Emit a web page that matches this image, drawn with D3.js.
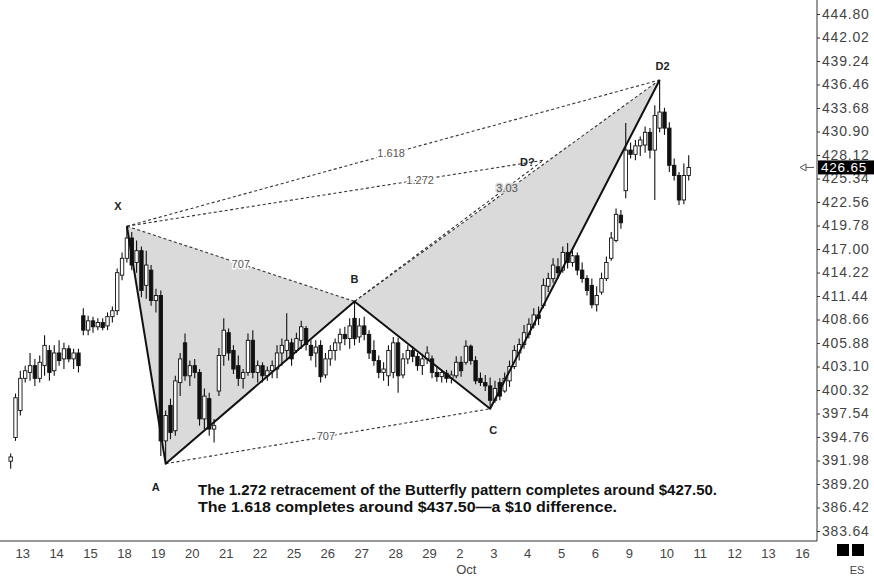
<!DOCTYPE html>
<html><head><meta charset="utf-8">
<script src="https://cdn.jsdelivr.net/npm/d3@7"></script>
<style>
html,body{margin:0;padding:0;background:#fff;}
svg{display:block;font-family:"Liberation Sans",Arial,sans-serif;}
</style></head><body>
<svg id="c" width="874" height="579"></svg>
<script>
// ---- data ----
const dayLabels = ["13","14","15","18","19","20","21","22","25","26","27","28","29","2","3","4","5","6","9","10","11","12","13","16"];
const monthLabel = {text:"Oct", day:13};
const opens = [391.9, 394.7,397.9,401.7,402.4,403.2,401.7,403.2, 405.0,402.6,404.7,404.0,405.2,404.0,404.7, 409.1,407.4,408.5,407.8,408.3,407.9,409.0, 409.7,413.9,415.9,418.3,415.4,416.8,412.7, 414.5,410.9,411.5,394.3,398.5,395.5,401.2, 405.9,402.0,403.2,402.4,396.9,399.3,395.7, 400.2,404.4,407.1,405.0,403.2,401.7,402.4, 406.2,402.4,403.2,402.0,402.6,402.8,404.7, 405.0,405.9,405.0,406.2,407.6,405.6,404.7, 405.6,402.1,404.0,405.0,405.9,406.9,406.4, 408.8,406.6,407.9,406.9,405.0,403.8,402.4, 402.0,402.4,405.9,402.1,404.0,405.0,404.3, 403.2,404.0,404.0,402.4,401.9,402.3,401.7, 402.0,403.6,403.6,405.5,403.8,401.7,401.2, 400.8,399.1,401.2,400.2,401.4,403.1,404.7, 405.7,406.9,408.0,409.2,410.3,412.6,413.5, 414.9,414.5,416.6,415.4,416.2,414.5,413.5, 412.7,410.4,411.9,413.5,415.9,418.0,421.0, 423.9,428.7,428.2,429.2,429.3,430.8,428.7, 431.3,433.2,431.3,426.9,425.7,422.8,425.7];
const highs = [392.8, 399.9,402.6,403.2,404.7,404.0,404.4,406.8, 405.6,405.6,406.2,405.9,405.6,405.2,405.2, 410.0,409.1,409.0,408.8,408.8,409.5,410.2, 414.7,416.6,419.7,419.0,418.0,417.3,416.8, 415.1,412.3,412.1,397.9,399.3,402.0,404.7, 407.0,403.8,404.0,402.8,400.5,400.0,396.9, 405.3,408.8,407.6,405.6,404.4,402.8,407.0, 407.4,403.8,403.6,403.1,403.8,405.6,406.4, 409.4,406.4,407.1,408.5,407.9,406.2,406.2, 406.2,404.7,405.6,406.4,407.6,407.8,408.8, 410.8,408.8,409.0,407.4,406.2,404.4,403.6, 405.6,406.6,406.5,404.7,405.6,405.5,404.7, 404.6,405.5,404.4,403.1,402.7,402.7,402.6, 404.3,404.3,406.2,405.7,404.3,402.4,402.1, 401.8,401.4,401.7,402.4,403.8,405.6,406.4, 408.0,408.8,410.0,410.2,413.5,414.2,415.9, 415.9,417.3,417.7,416.8,416.6,415.4,413.9, 413.5,412.6,414.2,416.1,419.0,421.8,421.6, 431.9,429.6,429.9,430.3,431.5,431.3,434.0, 437.0,433.7,432.0,427.7,426.1,427.1,428.1];
const lows = [391.0, 394.3,397.3,401.2,401.4,400.8,401.2,402.0, 401.4,402.0,403.2,402.8,403.6,402.8,402.4, 406.8,406.8,407.1,407.4,407.4,407.4,408.3, 409.2,413.3,415.4,414.5,414.2,411.3,411.1, 410.3,409.5,392.5,391.6,394.5,394.9,399.6, 401.4,400.8,401.7,396.1,395.7,394.9,394.1, 399.6,403.2,403.8,402.2,400.8,400.5,402.0, 401.7,401.2,401.2,401.4,401.7,401.7,403.2, 403.8,403.2,404.7,405.2,405.0,403.8,403.0, 401.2,401.7,403.2,403.8,405.0,405.6,405.2, 405.6,405.9,406.2,404.0,403.2,401.7,401.4, 400.8,401.7,400.0,401.7,403.4,403.6,402.6, 402.1,403.4,401.7,401.3,401.2,401.2,401.1, 401.7,401.9,403.3,403.3,401.0,400.8,400.2, 398.1,398.8,399.1,400.0,400.7,402.8,403.8, 405.2,406.4,407.6,408.0,410.0,411.9,413.0, 413.5,414.2,414.7,414.9,413.9,413.0,411.5, 410.0,409.6,411.6,413.2,415.6,417.8,419.4, 423.0,427.7,427.5,428.0,428.4,427.7,422.8, 430.8,430.5,426.1,425.1,422.2,422.3,425.1];
const closes = [392.4, 399.4,401.7,402.6,403.2,401.7,403.6,405.6, 402.4,404.7,403.8,405.2,404.0,404.7,403.2, 407.4,408.5,407.8,408.3,407.7,409.0,409.7, 414.2,415.9,418.3,415.1,416.8,412.1,415.1, 410.9,411.5,394.3,397.3,395.3,401.4,404.0, 402.0,403.2,402.4,396.9,399.6,395.7,396.1, 404.4,407.4,404.7,402.8,401.7,402.4,406.2, 402.4,403.2,402.0,402.6,403.2,404.7,405.6, 406.2,404.0,406.4,407.8,405.7,404.4,405.4, 401.9,404.0,405.0,405.9,406.9,406.4,407.9, 406.4,407.9,406.9,404.7,403.8,402.4,402.8, 405.0,405.9,402.0,404.0,405.0,404.3,403.2, 404.0,404.7,402.4,401.9,402.4,401.7,402.1, 403.6,402.6,405.5,403.8,401.4,401.2,400.8, 399.1,400.5,399.6,401.7,403.1,405.0,405.7, 407.1,408.1,409.2,408.8,412.7,413.5,415.1, 414.2,416.6,415.4,416.2,414.5,413.5,412.1, 410.4,411.5,413.5,415.4,418.3,421.1,420.1, 428.7,428.2,429.2,429.9,430.8,428.7,432.8, 433.2,431.3,426.9,425.7,422.8,425.7,426.65];
const yTicks = [444.80,442.02,439.24,436.46,433.68,430.90,428.12,425.34,422.56,419.78,417.00,414.22,411.44,408.66,405.88,403.10,400.32,397.54,394.76,391.98,389.20,386.42,383.64];
const patternNames = ["X","A","B","C","D2"];
const patternIdx = [24,32,71,99,134];
const patternPrice = [419.7,391.6,410.8,398.1,437.0];
const altD = {name:"D?", idx:110, price:427.5};
const ratioText = ["707","707","3.03","1.618","1.272"];
const lastPrice = 426.65;
const symbol = "ES";
const notes = ["The 1.272 retracement of the Butterfly pattern completes around $427.50.",
               "The 1.618 completes around $437.50\u2014a $10 difference."];
const noteWidths = [519, 419];

// ---- scales ----
const svg = d3.select("#c");
const x = d3.scaleLinear().domain([0,140]).range([10.66,688.7]);
const y = d3.scaleLinear().domain([383.64,444.80]).range([531,14]);
const barsPerDay = 7;

const P = patternIdx.map((i,k)=>({name:patternNames[k], x:x(i), y:y(patternPrice[k])}));
const [pX,pA,pB,pC,pD] = P;
const pD1 = {name:altD.name, x:x(altD.idx), y:y(altD.price)};

// ---- shaded triangles ----
const tri = [[pX,pA,pB],[pB,pC,pD]];
svg.append("g").selectAll("path").data(tri).join("path")
  .attr("d", t=>"M"+t.map(p=>p.x+","+p.y).join("L")+"Z")
  .attr("fill","#dadada");

// ---- dashed lines ----
const dashed = [[pX,pB],[pA,pC],[pB,pD],[pX,pD],[pX,pD1],[pB,pD1]];
svg.append("g").selectAll("line").data(dashed).join("line")
  .attr("x1",d=>d[0].x).attr("y1",d=>d[0].y).attr("x2",d=>d[1].x).attr("y2",d=>d[1].y)
  .attr("stroke","#333").attr("stroke-width",1.1).attr("stroke-dasharray","3,2.5");

// ---- candles ----
const bars = opens.map((o,i)=>({i,o,h:highs[i],l:lows[i],c:closes[i]}));
const cg = svg.append("g");
cg.selectAll("line").data(bars).join("line")
  .attr("x1",d=>x(d.i)).attr("x2",d=>x(d.i))
  .attr("y1",d=>y(d.h)).attr("y2",d=>y(d.l))
  .attr("stroke","#111").attr("stroke-width",1.1);
cg.selectAll("rect").data(bars).join("rect")
  .attr("x",d=>x(d.i)-1.7).attr("width",3.4)
  .attr("y",d=>y(Math.max(d.o,d.c)))
  .attr("height",d=>Math.max(1,Math.abs(y(d.o)-y(d.c))))
  .attr("fill",d=>d.c>=d.o?"#fff":"#111")
  .attr("stroke","#111").attr("stroke-width",0.9);

// ---- solid pattern legs ----
svg.append("path")
  .attr("d", d3.line().x(p=>p.x).y(p=>p.y)(P))
  .attr("fill","none").attr("stroke","#111").attr("stroke-width",2).attr("stroke-linejoin","round");

// ---- ratio labels ----
const ratioPos = [
  {a:pX,b:pB,t:0.50,bg:"#fff"},
  {a:pA,b:pC,t:0.494,bg:"#fff"},
  {a:pB,b:pD,t:0.50,bg:"#dadada",dy:-3},
  {a:pX,b:pD,t:0.496,bg:"#fff"},
  {a:pX,b:pD1,t:0.704,bg:"#fff"}
];
svg.append("g").selectAll("text").data(ratioPos).join("text")
  .attr("x",d=>d.a.x+(d.b.x-d.a.x)*d.t)
  .attr("y",d=>d.a.y+(d.b.y-d.a.y)*d.t+(d.dy||0))
  .attr("dy","0.35em").attr("text-anchor","middle")
  .attr("font-size",11).attr("fill","#555")
  .attr("stroke",d=>d.bg).attr("stroke-width",3).attr("paint-order","stroke")
  .text((d,k)=>ratioText[k]);

// ---- point labels ----
const ptOff = {X:[-9,-16],A:[-10,27],B:[0,-18],C:[3,25],D2:[3,-10],"D?":[-16,6]};
svg.append("g").selectAll("text").data(P.concat([pD1])).join("text")
  .attr("x",d=>d.x+ptOff[d.name][0]).attr("y",d=>d.y+ptOff[d.name][1])
  .attr("text-anchor","middle").attr("font-size",11).attr("font-weight","bold")
  .attr("fill","#222").text(d=>d.name);

// ---- notes ----
svg.append("g").selectAll("text").data(notes).join("text")
  .attr("x",198).attr("y",(d,k)=>495+k*17)
  .attr("font-size",14).attr("font-weight","bold").attr("fill","#111")
  .attr("textLength",(d,k)=>noteWidths[k]).attr("lengthAdjust","spacingAndGlyphs")
  .text(d=>d);

// ---- right axis ----
const ax = svg.append("g").attr("transform","translate(817,0)")
  .call(d3.axisRight(y).tickValues(yTicks).tickSize(3).tickSizeOuter(0).tickPadding(2).tickFormat(d=>d.toFixed(2)));
ax.select(".domain").remove();
ax.selectAll("line").attr("stroke","#333");
ax.selectAll("text").attr("font-size",14).attr("fill","#444").attr("letter-spacing","0.8px")
  .attr("font-family","'Liberation Sans',Arial,sans-serif");
svg.append("line").attr("x1",817).attr("x2",817).attr("y1",0).attr("y2",541).attr("stroke","#333");

// ---- bottom axis ----
svg.append("line").attr("x1",0).attr("x2",817).attr("y1",541).attr("y2",541).attr("stroke","#333");
const dayIdx = dayLabels.map((d,k)=>1+k*barsPerDay);
svg.append("g").selectAll("text").data(dayLabels).join("text")
  .attr("x",(d,k)=>x(dayIdx[k])).attr("y",558)
  .attr("font-size",13).attr("fill","#444").text(d=>d);
svg.append("text").attr("x",x(dayIdx[monthLabel.day])).attr("y",574)
  .attr("font-size",13).attr("fill","#444").text(monthLabel.text);

// ---- last price marker ----
const ly = y(lastPrice);
svg.append("rect").attr("x",818).attr("y",ly-7).attr("width",56).attr("height",14).attr("fill","#000");
svg.append("text").attr("x",821).attr("y",ly).attr("dy","0.36em").attr("font-size",13.5)
  .attr("letter-spacing","0.8px").attr("fill","#fff").text(lastPrice.toFixed(2));
svg.append("path").attr("d",`M800,${ly} L806,${ly-3.5} L806,${ly+3.5} Z M806,${ly} L814,${ly}`)
  .attr("fill","none").attr("stroke","#555").attr("stroke-width",1);

// ---- symbol ----
svg.append("rect").attr("x",837).attr("y",544).attr("width",12).attr("height",12).attr("fill","#000");
svg.append("rect").attr("x",852).attr("y",544).attr("width",12).attr("height",12).attr("fill","#000");
svg.append("text").attr("x",857).attr("y",574).attr("text-anchor","middle").attr("font-size",11).attr("fill","#444").text(symbol);
</script>
</body></html>
